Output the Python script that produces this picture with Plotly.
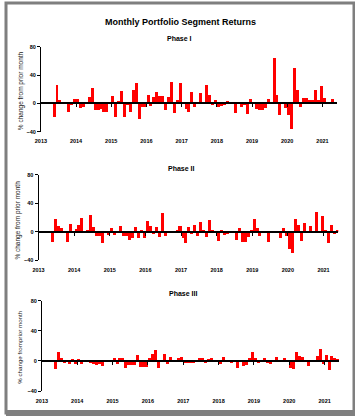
import plotly.graph_objects as go
import pandas as pd

# ---------------- data ----------------
TITLE = "Monthly Portfolio Segment Returns"
PANEL_TITLES = ["Phase I", "Phase II", "Phase III"]
Y_TITLES = ["% change from prior month", "% change from prior month", "% change fromprior month"]
START_MONTH = "2013-05-01"

phase1 = [-19, 27, 5.5, 1.5, 0, -12, -2, 7,
          7, -6, -4, 1.5, 10, 22, -9, -9, -7, -11, -11, 0.5,
          11, -18, 4, 18, -18, -2, -11, 19.5, 29, -21, -5, -5,
          12.5, -3, 10, 17, 11, 11, -9, 10, 31, -13.5, 5.5, 29,
          3, -8, -12, 17, -5, 0.5, 15, 1, 27, 13, -2, 5.5,
          -5, -3, -2, 4, 0, 0, -13.5, 1.5, -5, -1, -15, 7,
          1.5, -8, -9, -9, -6.5, 7, 3, 64, 12.5, -16, 1.5, -6,
          -16, -36, 50, 19.5, -5, 8, 8, 5.5, 5.5, 19.5, 5.5, 25,
          8, 0, 0, 7]

phase2 = [-14.7, 18, 8, 5.5, 0, -14.7, 10.5, 0.5,
          4, 9.6, 19, -2, 3, 23.4, 7, -6, -6, -16, 0, -3.7,
          5.5, -3.7, 0, 8.3, -6, -6, -11.5, -7.8, 7, -8.7, 3, -8.7,
          15, 8.7, -3.2, 7, -7.4, 26, -5, -1.8, -1.8, 0, 1.8, 8.3,
          -7.9, -14.9, 7, -2.3, 9.7, -5, 14, 3, -6.4, 16.5, 2.8, 1,
          -12, 2.8, -3.7, -2.3, -1, 0, -10.6, 5.5, -14.7, -14, -7, 1.4,
          18, 5.5, -5, 0, 0, -14.7, 0, 0, 0, -7.8, 5.5, -6,
          -24, -29, 18, 9.7, -12, 12.4, 0, 8.3, 0, 27.6, 0, 22,
          1.4, -16, 9.7, -2.3, 1.4]

phase3 = [-11, 12, 4.4, -1.3, 0, -4.4, 3, -4.4,
          3, -4.4, 1.7, 1.7, -2, -3.5, -5.7, -3.5, -7, 0, 0, 0,
          4.4, -4.4, 3.5, 4.4, -9.6, -5.7, -5.7, -5.7, 8.7, -7.4, -7.4, -7.4,
          4.4, 9.6, 15, -9.6, 1.7, 9.6, -4.4, 5.2, 0, 0, 3.5, 5.2,
          -2.6, -1.7, -1.7, -2.6, 0, 4.4, 4.4, -2, 2.6, 4.4, 1.7, 0,
          -4.4, 6, 0.5, 1.7, -1.7, 0, -8.7, 1.7, -6, -5.2, 4.4, 12,
          4.4, -1.7, 1.7, 3.5, -1.7, -4.4, 0, 5.2, 0, 1.7, 3.5, 0,
          -8.7, -10.5, 12, 6.5, 6, 0.9, -6.5, 0, 0, 6.5, 15.7, -4.4,
          8.7, -12, 7, 3.5, 2.6]

YEAR_LABELS = ["2013", "2014", "2015", "2016", "2017", "2018", "2019", "2020", "2021"]
Y_TICKS = [-40, 0, 40, 80]
Y_RANGE = [-40, 80]
X_RANGE = ["2013-01-01", "2021-06-01"]

series = [phase1, phase2, phase3]

# ---------------- layout geometry (pixels) ----------------
W, H = 355, 416
# (x_left, x_right, y_top at 80, y_bottom at -40)
PANELS_PX = [(35.5, 336.7, 44.3, 130.7),
             (33.1, 338.0, 174.3, 261.0),
             (36.5, 339.0, 302.3, 393.7)]
PHASE_POS = [(176.0, 36.0), (178.5, 167.7), (180.0, 295.0)]
YTITLE_POS = [(14.7, 89.0), (12.0, 220.0), (14.0, 349.0)]
YTITLE_SIZE = [6.5, 6.5, 6.2]
BAR_WIDTH_MS = 31 * 24 * 3600 * 1000

FONT = "Liberation Sans, Arial, sans-serif"
RED = "#FF0000"

fig = go.Figure()
year_dates = [f"{y}-01-01" for y in YEAR_LABELS]
layout = {}
annotations = []

for i, vals in enumerate(series):
    k = i + 1
    xb = "x" if k == 1 else f"x{k}"
    xl = f"x{k + 3}"
    yk = "y" if k == 1 else f"y{k}"
    months = pd.date_range(START_MONTH, periods=len(vals), freq="MS").strftime("%Y-%m-%d").tolist()

    fig.add_trace(go.Bar(x=months, y=vals, xaxis=xb, yaxis=yk,
                         xperiod="M1", xperiodalignment="middle",
                         width=BAR_WIDTH_MS,
                         marker=dict(color=RED, line=dict(width=0)),
                         showlegend=False, hoverinfo="skip"))
    fig.add_trace(go.Scatter(x=[], y=[], xaxis=xl, yaxis=yk, showlegend=False))

    xl_px, xr_px, yt_px, yb_px = PANELS_PX[i]
    dom_x = [xl_px / W, xr_px / W]
    dom_y = [1 - yb_px / H, 1 - yt_px / H]
    zero_pos = dom_y[0] + (0 - Y_RANGE[0]) / (Y_RANGE[1] - Y_RANGE[0]) * (dom_y[1] - dom_y[0])

    layout["xaxis" if k == 1 else f"xaxis{k}"] = dict(
        domain=dom_x, range=X_RANGE, type="date", anchor="free", position=zero_pos,
        showline=True, linecolor="black", linewidth=1.5,
        ticks="outside", ticklen=3, tickwidth=1, tickcolor="black",
        tickvals=year_dates, showticklabels=False,
        showgrid=False, zeroline=False, fixedrange=True)
    layout[f"xaxis{k + 3}"] = dict(
        domain=dom_x, range=X_RANGE, type="date", anchor=yk, overlaying=xb,
        showline=False, ticks="outside", ticklen=4, tickcolor="rgba(0,0,0,0)",
        tickvals=year_dates, ticktext=YEAR_LABELS,
        tickfont=dict(family=FONT, size=5.5, color="black", weight="bold"),
        showgrid=False, zeroline=False, fixedrange=True)
    layout["yaxis" if k == 1 else f"yaxis{k}"] = dict(
        domain=dom_y, range=Y_RANGE, anchor=xb,
        showline=True, linecolor="black", linewidth=1,
        ticks="outside", ticklen=3, tickwidth=1, tickcolor="black",
        tickvals=Y_TICKS,
        tickfont=dict(family=FONT, size=5.5, color="black", weight="bold"),
        showgrid=False, zeroline=False, fixedrange=True)

    px_, py_ = PHASE_POS[i]
    annotations.append(dict(text=PANEL_TITLES[i], x=px_ / W, y=1 - py_ / H,
                            xref="paper", yref="paper", showarrow=False,
                            xanchor="center", yanchor="middle",
                            font=dict(family=FONT, size=7, color="black", weight="bold")))
    tx, ty = YTITLE_POS[i]
    annotations.append(dict(text=Y_TITLES[i], x=tx / W, y=1 - ty / H,
                            xref="paper", yref="paper", showarrow=False, textangle=-90,
                            xanchor="center", yanchor="middle",
                            font=dict(family=FONT, size=YTITLE_SIZE[i], color="#222222")))

annotations.append(dict(text=TITLE, x=177.5 / W, y=1 - 19.0 / H,
                        xref="paper", yref="paper", showarrow=False,
                        xanchor="center", yanchor="middle",
                        font=dict(family=FONT, size=9, color="black", weight="bold")))

shapes = [
    dict(type="rect", xref="paper", yref="paper", x0=0, y0=0, x1=1, y1=1,
         line=dict(color="#7f7f7f", width=3)),
    dict(type="line", xref="paper", yref="paper", x0=1, y0=0, x1=1, y1=1,
         line=dict(color="#7f7f7f", width=5)),
    dict(type="line", xref="paper", yref="paper", x0=0, y0=0, x1=1, y1=0,
         line=dict(color="#7f7f7f", width=6)),
]

fig.update_layout(
    width=W, height=H, autosize=False,
    margin=dict(l=0, r=0, t=0, b=0, pad=0),
    paper_bgcolor="white", plot_bgcolor="white",
    bargap=0, showlegend=False,
    annotations=annotations, shapes=shapes,
    font=dict(family=FONT),
    **layout)

fig.write_html("out.html", config={"displayModeBar": False},
               post_script="document.body.style.margin='0';document.body.style.overflow='hidden';")
